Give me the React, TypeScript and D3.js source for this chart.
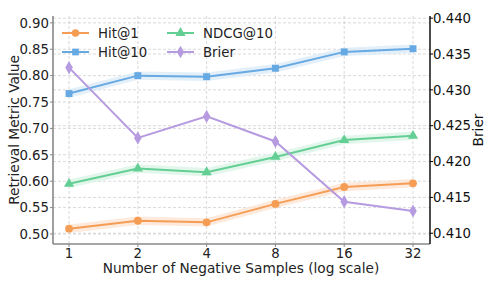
import React, { useEffect, useRef } from 'react';
import * as d3 from 'd3';

const samples = [1, 2, 4, 8, 16, 32];
const hit1 = [0.510, 0.525, 0.522, 0.557, 0.589, 0.596];
const hit10 = [0.766, 0.800, 0.798, 0.814, 0.845, 0.851];
const ndcg10 = [0.595, 0.624, 0.617, 0.646, 0.678, 0.686];
const brier = [0.4331, 0.4233, 0.4263, 0.4228, 0.4144, 0.4131];
const bandWidth = 0.008;
const leftTicks = [0.5, 0.55, 0.6, 0.65, 0.7, 0.75, 0.8, 0.85, 0.9];
const rightTicks = [0.41, 0.415, 0.42, 0.425, 0.43, 0.435, 0.44];

const W = 498;
const H = 289;
const FONT = 'DejaVu Sans, sans-serif';
const TICK_FS = 13.3;
const LABEL_FS = 13.7;

const App = () => {
  const ref = useRef<SVGSVGElement>(null);

  useEffect(() => {
    const svg = d3.select(ref.current);
    svg.selectAll('*').remove();

    const left = 53, right = 430, top = 16, bottom = 244;

    const x = d3.scaleLog().base(2).domain([Math.pow(2, -0.233), Math.pow(2, 5.247)]).range([left, right]);
    const yL = d3.scaleLinear().domain([0.481, 0.913]).range([bottom, top]);
    const yR = d3.scaleLinear().domain([0.4085, 0.4403]).range([bottom, top]);

    const grid = svg.append('g');
    const gridStyle = (s: any) => s.attr('stroke', '#cfcfcf').attr('stroke-width', 0.8).attr('stroke-dasharray', '3,2');
    samples.forEach(v => {
      grid.append('line').attr('x1', x(v)).attr('x2', x(v)).attr('y1', top).attr('y2', bottom).call(gridStyle);
    });
    leftTicks.forEach(v => {
      grid.append('line').attr('x1', left).attr('x2', right).attr('y1', yL(v)).attr('y2', yL(v)).call(gridStyle);
    });
    rightTicks.forEach(v => {
      grid.append('line').attr('x1', left).attr('x2', right).attr('y1', yR(v)).attr('y2', yR(v)).call(gridStyle);
    });

    const series = [
      { name: 'Hit@1', data: hit1, color: '#f59d55', band: '#fde5d3', shape: d3.symbolCircle, axis: yL },
      { name: 'Hit@10', data: hit10, color: '#67a9e2', band: '#dcebf8', shape: d3.symbolSquare, axis: yL },
      { name: 'NDCG@10', data: ndcg10, color: '#64cf94', band: '#dcf4e6', shape: d3.symbolTriangle, axis: yL },
      { name: 'Brier', data: brier, color: '#b69be0', band: null, shape: d3.symbolDiamond, axis: yR },
    ];

    series.forEach(s => {
      if (s.band) {
        const area = d3.area<number>()
          .x((d, i) => x(samples[i]))
          .y0(d => s.axis(d - bandWidth))
          .y1(d => s.axis(d + bandWidth));
        svg.append('path').attr('d', area(s.data)).attr('fill', s.band).attr('opacity', 0.8);
      }
    });

    series.forEach(s => {
      const line = d3.line<number>().x((d, i) => x(samples[i])).y(d => s.axis(d));
      svg.append('path').attr('d', line(s.data)).attr('fill', 'none').attr('stroke', s.color).attr('stroke-width', 2);
      const size = s.shape === d3.symbolTriangle ? 45 : s.shape === d3.symbolDiamond ? 50 : 48;
      svg.selectAll(null).data(s.data).enter().append('path')
        .attr('d', d3.symbol().type(s.shape).size(size)())
        .attr('transform', (d, i) => `translate(${x(samples[i])},${s.axis(d)})`)
        .attr('fill', s.color);
    });

    // spines
    svg.append('line').attr('x1', left).attr('x2', left).attr('y1', top).attr('y2', bottom).attr('stroke', '#888').attr('stroke-width', 1.6);
    svg.append('line').attr('x1', left).attr('x2', right).attr('y1', bottom).attr('y2', bottom).attr('stroke', '#888').attr('stroke-width', 1.6);
    svg.append('line').attr('x1', right).attr('x2', right).attr('y1', top).attr('y2', bottom).attr('stroke', '#000').attr('stroke-width', 1.4);

    // ticks
    leftTicks.forEach(v => {
      svg.append('line').attr('x1', left - 3).attr('x2', left).attr('y1', yL(v)).attr('y2', yL(v)).attr('stroke', '#888');
      svg.append('text').attr('x', left - 4).attr('y', yL(v)).attr('dy', '0.36em').attr('text-anchor', 'end')
        .attr('font-family', FONT).attr('font-size', TICK_FS).attr('fill', '#222').text(v.toFixed(2));
    });
    rightTicks.forEach(v => {
      svg.append('line').attr('x1', right).attr('x2', right + 3).attr('y1', yR(v)).attr('y2', yR(v)).attr('stroke', '#000');
      svg.append('text').attr('x', right + 3).attr('y', yR(v)).attr('dy', '0.36em').attr('text-anchor', 'start')
        .attr('font-family', FONT).attr('font-size', TICK_FS).attr('fill', '#111').text(v.toFixed(3));
    });
    samples.forEach(v => {
      svg.append('line').attr('x1', x(v)).attr('x2', x(v)).attr('y1', bottom).attr('y2', bottom + 3).attr('stroke', '#888');
      svg.append('text').attr('x', x(v)).attr('y', 258).attr('text-anchor', 'middle')
        .attr('font-family', FONT).attr('font-size', TICK_FS).attr('fill', '#222').text(String(v));
    });

    // axis labels
    svg.append('text').attr('transform', `translate(14,${(top + bottom) / 2}) rotate(-90)`).attr('dy', '0.36em')
      .attr('text-anchor', 'middle').attr('font-family', FONT).attr('font-size', LABEL_FS).attr('fill', '#222')
      .text('Retrieval Metric Value');
    svg.append('text').attr('transform', `translate(478,${(top + bottom) / 2}) rotate(-90)`).attr('dy', '0.36em')
      .attr('text-anchor', 'middle').attr('font-family', FONT).attr('font-size', LABEL_FS).attr('fill', '#111')
      .text('Brier');
    svg.append('text').attr('x', 241).attr('y', 273).attr('text-anchor', 'middle')
      .attr('font-family', FONT).attr('font-size', LABEL_FS).attr('fill', '#222')
      .text('Number of Negative Samples (log scale)');

    // legend
    const legendPos = [[62, 33], [62, 52], [167, 33], [167, 52]];
    series.forEach((s, i) => {
      const [lx, ly] = legendPos[i];
      const g = svg.append('g').attr('transform', `translate(${lx},${ly})`);
      g.append('line').attr('x1', 0).attr('x2', 27).attr('y1', 0).attr('y2', 0).attr('stroke', s.color).attr('stroke-width', 2);
      g.append('path').attr('d', d3.symbol().type(s.shape).size(45)()).attr('transform', 'translate(13.5,0)').attr('fill', s.color);
      g.append('text').attr('x', 36).attr('y', 0).attr('dy', '0.36em').attr('font-family', FONT).attr('font-size', TICK_FS)
        .attr('fill', '#222').text(s.name);
    });
  }, []);

  return (
    <svg ref={ref} width={W} height={H} style={{ position: 'absolute', left: 0, top: 0, background: '#fff' }}></svg>
  );
};

export default App;
